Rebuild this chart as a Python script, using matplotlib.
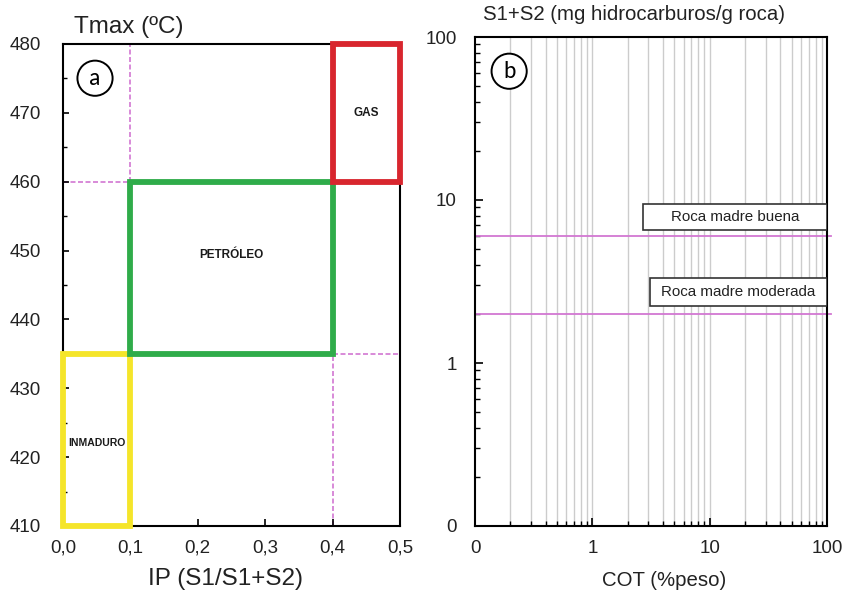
import matplotlib

matplotlib.use("Agg")
import matplotlib.pyplot as plt
import numpy as np
from matplotlib.patches import Rectangle
from matplotlib.ticker import FixedLocator, FixedFormatter, NullFormatter

plt.rcParams["font.family"] = ["Liberation Sans", "DejaVu Sans"]

# maturity windows: (label, IP min, IP max, Tmax min, Tmax max, colour)
zone_names = ["INMADURO", "PETRÓLEO", "GAS"]
zone_ip = [(0.0, 0.1), (0.1, 0.4), (0.4, 0.5)]
zone_tmax = [(410, 435), (435, 460), (460, 480)]
zone_colors = ["#f5e52a", "#2fac4a", "#d8262e"]
zone_label_pos = [(0.05, 422), (0.25, 449.4), (0.45, 470)]
zone_label_size = [7.5, 8.5, 8.5]

# dashed guide segments (x0, x1, y0, y1)
guides = [(0.1, 0.1, 460, 480), (0.0, 0.1, 460, 460),
          (0.4, 0.5, 435, 435), (0.4, 0.4, 410, 435)]

ip_ticks = [0.0, 0.1, 0.2, 0.3, 0.4, 0.5]
ip_labels = ["0,0", "0,1", "0,2", "0,3", "0,4", "0,5"]
tmax_ticks = [410, 420, 430, 440, 450, 460, 470, 480]

# source rock thresholds (S1+S2, mg HC/g roca)
rock_names = ["Roca madre buena", "Roca madre moderada"]
rock_limits = [6.0, 2.0]
rock_box_x = [(2.7, 100), (3.1, 100)]
rock_box_y = [(6.55, 9.4), (2.24, 3.32)]

log_ticks = [0.1, 1, 10, 100]
log_labels = ["0", "1", "10", "100"]

magenta = "#d277d2"
text_col = "#222222"

fig = plt.figure(figsize=(8.5, 5.95), dpi=100)

# ---- panel a: Tmax vs IP
ax = fig.add_axes([63 / 850, 1 - 526 / 595, 337 / 850, 482 / 595])
ax.set_xlim(0, 0.5)
ax.set_ylim(410, 480)
for x0, x1, y0, y1 in guides:
    ax.plot([x0, x1], [y0, y1], color=magenta, lw=1.2, ls=(0, (3, 1.5)), zorder=1)
for name, (x0, x1), (y0, y1), col, (tx, ty), fs in zip(zone_names, zone_ip, zone_tmax,
                                                        zone_colors, zone_label_pos,
                                                        zone_label_size):
    ax.add_patch(Rectangle((x0, y0), x1 - x0, y1 - y0, fill=False, edgecolor=col,
                           lw=4.2, clip_on=False, zorder=3, joinstyle="miter"))
    ax.text(tx, ty, name, ha="center", va="center", fontsize=fs, fontweight="bold",
            color="#1a1a1a")
ax.xaxis.set_major_locator(FixedLocator(ip_ticks))
ax.xaxis.set_major_formatter(FixedFormatter(ip_labels))
ax.yaxis.set_major_locator(FixedLocator(tmax_ticks))
ax.yaxis.set_minor_locator(FixedLocator(np.arange(415, 480, 10)))
ax.tick_params(axis="both", which="both", direction="in", labelsize=13.5,
               labelcolor=text_col, top=False, right=False)
ax.tick_params(axis="x", which="major", length=5, width=1.2, pad=10)
ax.tick_params(axis="y", which="major", length=4, width=1.2, pad=16)
ax.tick_params(axis="y", which="minor", length=3, width=1.0)
for sp in ax.spines.values():
    sp.set_linewidth(1.5)
ax.text(0.095, 0.929, "a", transform=ax.transAxes, ha="center", va="center",
        fontsize=17, color="black", family=["Carlito", "Liberation Sans"],
        bbox=dict(boxstyle="circle,pad=0.3", fc="white", ec="black", lw=1.4))

fig.text(74 / 850, 1 - 27 / 595, "Tmax (ºC)", ha="left", va="center",
         fontsize=17.5, color=text_col)
fig.text(225 / 850, 1 - 579 / 595, "IP (S1/S1+S2)", ha="center", va="center",
         fontsize=17.5, color=text_col)

# ---- panel b: S1+S2 vs COT, log-log
bx = fig.add_axes([475 / 850, 1 - 526 / 595, 352 / 850, 489 / 595])
bx.set_xscale("log")
bx.set_yscale("log")
bx.set_xlim(0.1, 100)
bx.set_ylim(0.1, 100)

minor_x = [m * 10.0 ** e for e in (-1, 0, 1) for m in range(2, 10)]
for xv in minor_x + [1, 10]:
    bx.axvline(xv, color="#cccccc", lw=1.0, zorder=0)

for name, lim, (x0, x1), (y0, y1) in zip(rock_names, rock_limits, rock_box_x, rock_box_y):
    bx.plot([0.1, 108], [lim, lim], color=magenta, lw=1.3, clip_on=False, zorder=2)
    bx.add_patch(Rectangle((x0, y0), x1 - x0, y1 - y0, fc="white", ec="#333333",
                           lw=1.2, zorder=3))
    bx.text(np.sqrt(x0 * x1), np.sqrt(y0 * y1), name, ha="center", va="center",
            fontsize=10.9, color=text_col, zorder=4)

bx.xaxis.set_major_locator(FixedLocator(log_ticks))
bx.xaxis.set_major_formatter(FixedFormatter(log_labels))
bx.yaxis.set_major_locator(FixedLocator(log_ticks))
bx.yaxis.set_major_formatter(FixedFormatter(log_labels))
bx.xaxis.set_minor_locator(FixedLocator(minor_x))
bx.yaxis.set_minor_locator(FixedLocator(minor_x))
bx.xaxis.set_minor_formatter(NullFormatter())
bx.yaxis.set_minor_formatter(NullFormatter())
bx.tick_params(axis="both", which="both", direction="in", labelsize=13.5,
               labelcolor=text_col, top=False, right=False)
bx.tick_params(axis="both", which="major", length=6, width=1.2)
bx.tick_params(axis="both", which="minor", length=3.5, width=1.0)
bx.tick_params(axis="x", which="major", pad=10)
bx.tick_params(axis="y", which="major", pad=13)
for sp in bx.spines.values():
    sp.set_linewidth(1.5)
bx.text(0.097, 0.93, "b", transform=bx.transAxes, ha="center", va="center",
        fontsize=17, color="black", family=["Carlito", "Liberation Sans"],
        bbox=dict(boxstyle="circle,pad=0.3", fc="white", ec="black", lw=1.4), zorder=5)

fig.text(483 / 850, 1 - 15 / 595, "S1+S2 (mg hidrocarburos/g roca)", ha="left",
         va="center", fontsize=14.7, color=text_col)
fig.text(664 / 850, 1 - 581 / 595, "COT (%peso)", ha="center", va="center",
         fontsize=14.7, color=text_col)

fig.savefig("out.png", dpi=100)
plt.close(fig)
